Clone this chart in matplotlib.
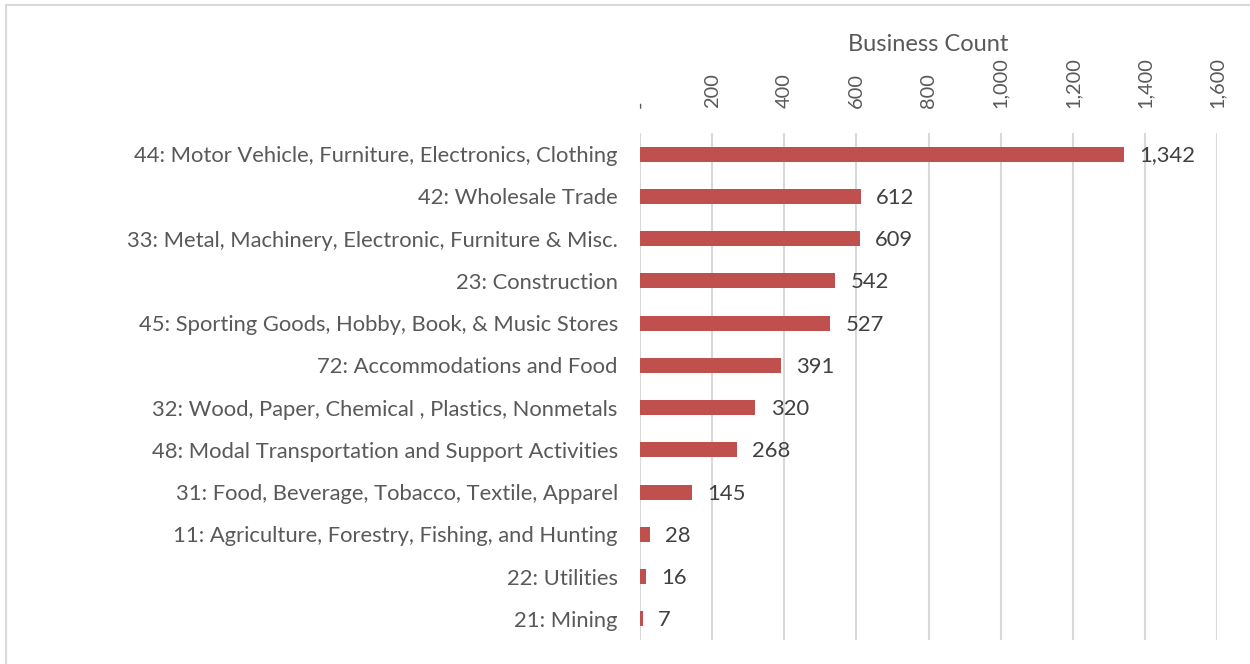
import matplotlib
matplotlib.use("Agg")
import matplotlib.pyplot as plt
from matplotlib.patches import Rectangle
from matplotlib.ticker import FuncFormatter

categories = [
    "44: Motor Vehicle, Furniture, Electronics, Clothing",
    "42: Wholesale Trade",
    "33: Metal, Machinery, Electronic, Furniture & Misc.",
    "23: Construction",
    "45: Sporting Goods, Hobby, Book, & Music Stores",
    "72: Accommodations and Food",
    "32: Wood, Paper, Chemical , Plastics, Nonmetals",
    "48: Modal Transportation and Support Activities",
    "31: Food, Beverage, Tobacco, Textile, Apparel",
    "11: Agriculture, Forestry, Fishing, and Hunting",
    "22: Utilities",
    "21: Mining",
]
counts = [1342, 612, 609, 542, 527, 391, 320, 268, 145, 28, 16, 7]
x_ticks = [0, 200, 400, 600, 800, 1000, 1200, 1400, 1600]

plt.rcParams["font.family"] = ["Lato", "DejaVu Sans"]

fig = plt.figure(figsize=(12.5, 6.64), dpi=100)
ax = fig.add_axes([640 / 1250, 1 - 640 / 664, 577 / 1250, 507 / 664])

y = list(range(len(categories)))
ax.barh(y, counts, height=0.36, color="#C0504D", zorder=3)
for yi, v in zip(y, counts):
    ax.annotate(f"{v:,}", (v, yi), xytext=(11, -1), textcoords="offset points",
                va="center", ha="left", fontsize=15.8, color="#404040")

ax.set_xlim(0, 1600)
ax.set_ylim(len(categories) - 0.5, -0.5)
ax.set_yticks(y)
ax.set_yticklabels(categories, fontsize=15.8, color="#595959")
ax.set_xticks(x_ticks)
ax.xaxis.set_major_formatter(FuncFormatter(lambda v, p: "-" if v == 0 else f"{int(v):,}"))
ax.xaxis.tick_top()
ax.xaxis.set_label_position("top")
ax.tick_params(axis="x", labelrotation=90, labelsize=14.4, labelcolor="#595959",
               length=0, pad=18)
ax.tick_params(axis="y", length=0, pad=16)
ax.set_xlabel("Business Count", fontsize=17, color="#595959", labelpad=4)
ax.grid(axis="x", color="#D9D9D9", linewidth=1.5, zorder=0)
for s in ax.spines.values():
    s.set_visible(False)

fig.patches.append(Rectangle((6 / 1250, -0.01), 1.02, 1 - 5 / 664 + 0.01,
                             transform=fig.transFigure, fill=False,
                             edgecolor="#D9D9D9", linewidth=1.5))

fig.savefig("out.png", dpi=100)
